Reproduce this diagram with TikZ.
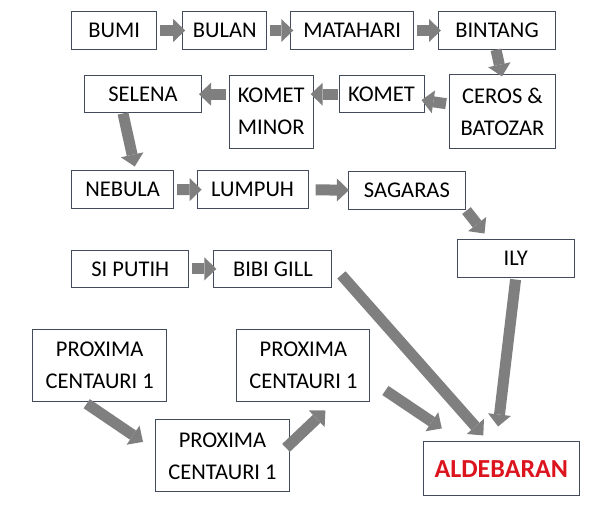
\documentclass[tikz,border=0pt]{standalone}
\usepackage{fontspec}
\setmainfont{Carlito}
\usepackage{tikz}
\usetikzlibrary{arrows.meta}
\definecolor{boxline}{RGB}{65,75,90}
\definecolor{arrowgray}{RGB}{127,127,127}
\definecolor{aldred}{RGB}{220,20,30}

\begin{document}
\begin{tikzpicture}[x=1pt,y=-1pt,
    box/.style={draw=boxline,line width=1pt,minimum height=37.5pt,inner sep=0pt,align=center,font=\fontsize{22.5}{32}\selectfont},
    tall/.style={box,minimum height=73pt},
    flow/.style={draw=arrowgray,line width=11pt,shorten <=3pt,shorten >=-3pt,-{Triangle[length=12pt,width=23pt,line width'=0pt]}}]
    \useasboundingbox (0,0) rectangle (607,505);
    % first row
    \node[box,minimum width=85pt] (bumi) at (114.2,30.5) {BUMI};
    \node[box,minimum width=84pt] (bulan) at (224.7,30.5) {BULAN};
    \node[box,minimum width=123pt] (matahari) at (352.3,30.5) {MATAHARI};
    \node[box,minimum width=117pt] (bintang) at (497,30.5) {BINTANG};
    % second row
    \node[box,minimum width=117pt] (selena) at (143,94.2) {SELENA};
    \node[tall,minimum width=84pt] (kometminor) at (271.2,111.7) {KOMET\\MINOR};
    \node[box,minimum width=85pt] (komet) at (381.5,94.2) {KOMET};
    \node[tall,minimum width=106pt,minimum height=74pt] (ceros) at (502.5,112) {CEROS \&\\BATOZAR};
    % third row
    \node[box,minimum width=102pt] (nebula) at (122.6,189.7) {NEBULA};
    \node[box,minimum width=111pt] (lumpuh) at (252.6,189.5) {LUMPUH};
    \node[box,minimum width=117pt] (sagaras) at (406.9,190.5) {SAGARAS};
    \node[box,minimum width=117pt] (ily) at (515.8,258.3) {ILY};
    \node[box,minimum width=117pt] (siputih) at (130.3,268.9) {SI PUTIH};
    \node[box,minimum width=118pt] (bibigill) at (272.9,268.9) {BIBI GILL};
    % bottom
    \node[tall,minimum width=134pt,minimum height=72pt] (proxa) at (99.7,365.2) {PROXIMA\\CENTAURI 1};
    \node[tall,minimum width=134pt,minimum height=72pt] (proxb) at (222.5,455.9) {PROXIMA\\CENTAURI 1};
    \node[tall,minimum width=133pt,minimum height=72pt] (proxc) at (303.4,365) {PROXIMA\\CENTAURI 1};
    \node[box,minimum width=156pt,minimum height=54pt,text=aldred,font=\fontsize{26}{30}\selectfont\bfseries] (aldebaran) at (501.3,468.9) {ALDEBARAN};

    \draw[flow] (bumi) -- (bulan);
    \draw[flow] (bulan) -- (matahari);
    \draw[flow] (matahari) -- (bintang);
    \draw[flow,shorten <=0pt,shorten >=-2pt] ([xshift=-1pt]bintang.south) -- ([xshift=-1pt]ceros.north);
    \draw[flow] (ceros) -- (komet);
    \draw[flow,shorten <=1pt] (komet) -- (komet -| kometminor.east);
    \draw[flow] (kometminor.west |- selena) -- (selena);
    \draw[flow,shorten <=0pt,shorten >=4pt] ([xshift=-20pt]selena.south) -- ([xshift=13pt]nebula.north);
    \draw[flow,shorten >=-5pt] (nebula) -- (lumpuh);
    \draw[flow,shorten <=7pt,shorten >=-1pt] (lumpuh) -- (sagaras);
    \draw[flow,shorten <=1pt,shorten >=7pt] (sagaras.south east) -- ([xshift=32pt]ily.north west);
    \draw[flow] (siputih) -- (bibigill);
    \draw[flow,shorten <=0pt,shorten >=0pt] ([shift={(9,6)}]bibigill.east) -- ([shift={(-18,-6)}]aldebaran.north);
    \draw[flow,shorten <=2pt,shorten >=15pt] (ily.south) -- ([xshift=-5pt]aldebaran.north);
    \draw[flow,shorten <=0pt,shorten >=0pt] ([shift={(15,-11)}]proxc.south east) -- ([shift={(19,-13)}]aldebaran.north west);
    \draw[flow,shorten <=0pt,shorten >=0pt] ([shift={(-13,2)}]proxa.south) -- ([shift={(-12,-14)}]proxb.west);
    \draw[flow,shorten <=0pt,shorten >=0pt] ([shift={(-4,-8)}]proxb.east) -- ([shift={(22,9)}]proxc.south);
\end{tikzpicture}
\end{document}
